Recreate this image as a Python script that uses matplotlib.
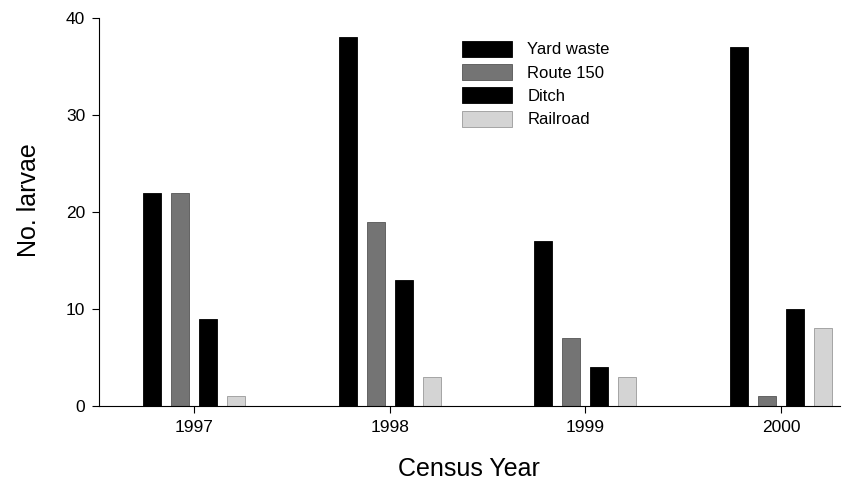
import numpy as np
import matplotlib.pyplot as plt

plt.rcParams['font.family'] = ['Liberation Sans', 'DejaVu Sans']

years = ['1997', '1998', '1999', '2000']
series = ['Yard waste', 'Route 150', 'Ditch', 'Railroad']
yard_waste = [22, 38, 17, 37]
route_150 = [22, 19, 7, 1]
ditch = [9, 13, 4, 10]
railroad = [1, 3, 3, 8]

values = [yard_waste, route_150, ditch, railroad]
colors = ['black', '#747474', 'black', '#d4d4d4']
edges = ['black', '#555555', 'black', '#999999']

fig = plt.figure(figsize=(8.55, 4.97), dpi=100)
ax = fig.add_axes([0.116, 0.183, 0.866, 0.781])

x = np.arange(len(years))
step = 0.143
width = 0.093
for i, (name, vals) in enumerate(zip(series, values)):
    ax.bar(x + (i - 1.5) * step, vals, width, color=colors[i],
           edgecolor=edges[i], linewidth=0.6, label=name)

ax.set_xlim(-0.485, 3.3)
ax.set_ylim(0, 40)
ax.set_yticks([0, 10, 20, 30, 40])
ax.set_xticks(x)
ax.set_xticklabels(years)
ax.tick_params(axis='both', labelsize=12.5, length=5, width=0.8, pad=5)
ax.spines['top'].set_visible(False)
ax.spines['right'].set_visible(False)
ax.set_xlabel('Census Year', fontsize=18, labelpad=16)
ax.set_ylabel('No. larvae', fontsize=18)
ax.yaxis.set_label_coords(-0.078, 0.53)

ax.legend(loc='upper left', bbox_to_anchor=(0.47, 0.98), frameon=False,
          fontsize=12, handlelength=3.0, handleheight=1.1,
          labelspacing=0.4, handletextpad=0.9)

fig.savefig('out.png', dpi=100)
